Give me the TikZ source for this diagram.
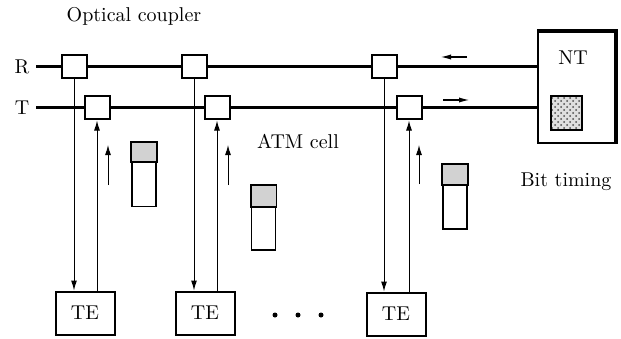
\documentclass[tikz,border=0pt]{standalone}
\usepackage{tikz}
\usetikzlibrary{arrows.meta,patterns}
\colorlet{cellcolor}{gray!35}
\colorlet{dotcolor}{gray!60!black}
\tikzset{
    >={Latex[length=5pt,width=3pt]},
    % --- styles ---
    bus_line/.style={line width=1.5pt},
    tap_line/.style={line width=0.5pt},
    flow_arrow/.style={line width=0.8pt, ->, >={Latex[length=5.5pt,width=2.6pt]}},
    coupler/.style={draw, fill=white, line width=1pt, minimum width=12.5pt,
                    minimum height=11.5pt, inner sep=0pt},
    te_box/.style={draw, line width=1pt, minimum width=29.5pt,
                   minimum height=21.5pt, inner sep=0pt},
    % ATM cell: white body, gray header
    cell_box/.style={draw, line width=0.8pt, minimum width=12pt,
                     minimum height=32pt, inner sep=0pt},
    cell_head/.style={draw, fill=cellcolor, line width=0.8pt},
    timing_box/.style={draw, line width=1pt, preaction={fill=gray!25},
                       pattern=crosshatch dots, pattern color=dotcolor,
                       minimum width=15.5pt, minimum height=17pt}
}

\begin{document}
\begin{tikzpicture}[x=0.5pt, y=0.5pt]
    \useasboundingbox (0,0) rectangle (621,338);

    \node (lab_coupler) at (134,322) {Optical coupler};
    \node (lab_r) at (22,271) {R};
    \node (lab_t) at (22,230) {T};
    \node (lab_atm) at (298,197) {ATM cell};
    \node (lab_bit) at (566,156) {Bit timing};

    % network termination
    \node[draw, line width=1pt, minimum width=38.5pt, minimum height=55.5pt] (nt) at (576.5,250.5) {};
    \draw[line width=1.6pt] ([yshift=0.4pt]nt.north west) -- ([shift={(0.4pt,0.4pt)}]nt.north east)
        -- ([xshift=0.4pt]nt.south east);
    \node (lab_nt) at (573,280) {NT};
    \node[timing_box] (timing) at (566.5,225) {};

    \draw[bus_line] (lab_r.east) -- (lab_r -| nt.west);
    \draw[bus_line] (lab_t.east) -- (lab_t -| nt.west);

    \node[coupler] (rc1) at (74,271) {};
    \node[coupler] (rc2) at (194,271) {};
    \node[coupler] (rc3) at (384,271) {};
    \node[coupler] (tc1) at (97,230) {};
    \node[coupler] (tc2) at (217,230) {};
    \node[coupler] (tc3) at (409,230) {};

    \node[te_box] (te1) at (85,25) {TE};
    \node[te_box] (te2) at (205,25) {TE};
    \node[te_box] (te3) at (396,24) {TE};

    % taps R -> TE and TE -> T
    \draw[tap_line,->] (rc1.south) -- (rc1.south |- te1.north);
    \draw[tap_line,->] (tc1.south |- te1.north) -- (tc1.south);
    \draw[tap_line,->] (rc2.south) -- (rc2.south |- te2.north);
    \draw[tap_line,->] (tc2.south |- te2.north) -- (tc2.south);
    \draw[tap_line,->] (rc3.south) -- (rc3.south |- te3.north);
    \draw[tap_line,->] (tc3.south |- te3.north) -- (tc3.south);

    \coordinate (up1_a) at (108,153);
    \coordinate (up1_b) at (108,193);
    \coordinate (up2_a) at (228,153);
    \coordinate (up2_b) at (228,193);
    \coordinate (up3_a) at (419,154);
    \coordinate (up3_b) at (419,193);
    \draw[tap_line,->] (up1_a) -- (up1_b);
    \draw[tap_line,->] (up2_a) -- (up2_b);
    \draw[tap_line,->] (up3_a) -- (up3_b);

    \node[cell_box] (cell1) at (144,163.5) {};
    \filldraw[cell_head] (cell1.north west) rectangle ([yshift=-10pt]cell1.north east);
    \node[cell_box] (cell2) at (263.5,120) {};
    \filldraw[cell_head] (cell2.north west) rectangle ([yshift=-11pt]cell2.north east);
    \node[cell_box] (cell3) at (455,141) {};
    \filldraw[cell_head] (cell3.north west) rectangle ([yshift=-10.5pt]cell3.north east);

    % direction on the bus
    \coordinate (flow_r_a) at (467,281);
    \coordinate (flow_r_b) at (440,281);
    \coordinate (flow_t_a) at (443,238);
    \coordinate (flow_t_b) at (470,238);
    \draw[flow_arrow] (flow_r_a) -- (flow_r_b);
    \draw[flow_arrow] (flow_t_a) -- (flow_t_b);

    \fill (275,23) circle (2.5);
    \fill (298,23) circle (2.5);
    \fill (321,23) circle (2.5);
\end{tikzpicture}
\end{document}
